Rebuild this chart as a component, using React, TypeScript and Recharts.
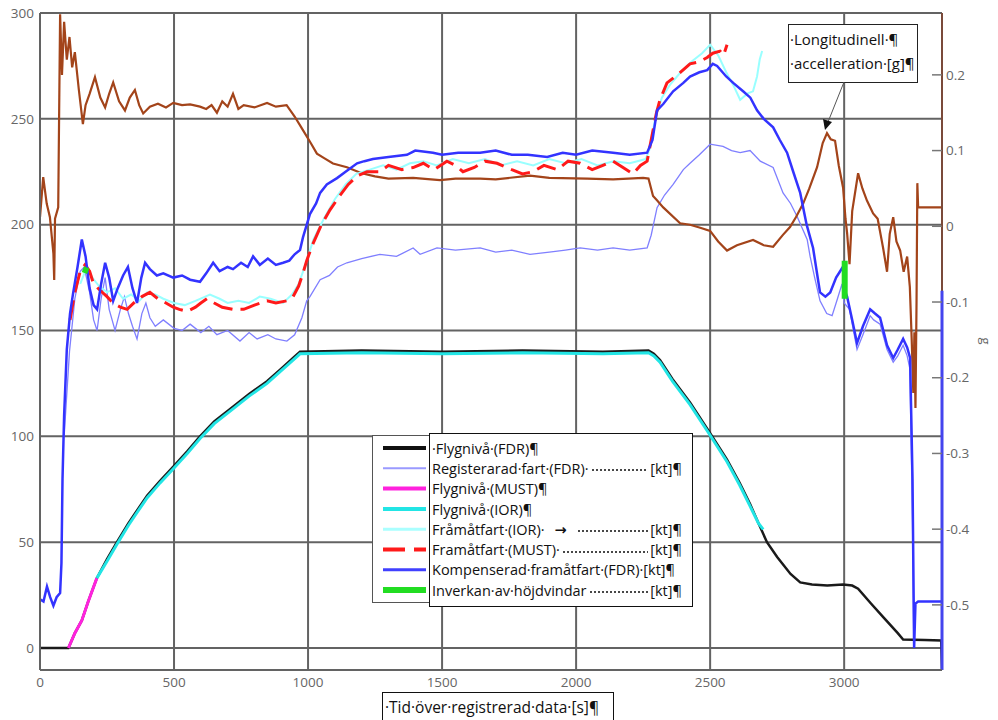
import React from 'react';
import { LineChart, Line, XAxis, YAxis, CartesianGrid, ReferenceLine } from 'recharts';

type Pair = [number, number | null];

const timeTicks = [0, 500, 1000, 1500, 2000, 2500, 3000];
const levelTicks = [0, 50, 100, 150, 200, 250, 300];
const gTicks = [-0.5, -0.4, -0.3, -0.2, -0.1, 0, 0.1, 0.2];

// Flygnivå (FDR)
const flightLevelFdr: Pair[] = [
  [0, 0], [106, 0], [130, 7], [156, 13], [180, 22], [212, 33], [250, 42], [287, 50], [330, 59], [362, 65],
  [400, 72], [448, 79], [500, 86], [550, 93], [597, 100], [650, 107], [720, 114], [780, 120], [847, 126],
  [900, 132], [944, 137], [970, 140], [1200, 140.5], [1500, 140], [1800, 140.5], [2100, 140], [2270, 140.5],
  [2290, 139], [2313, 136], [2360, 127], [2425, 116], [2500, 101.5], [2563, 89], [2610, 78], [2649, 68],
  [2680, 59], [2712, 50], [2750, 43], [2800, 35], [2836, 31], [2880, 30], [2937, 29.5], [2996, 30],
  [3030, 29.5], [3052, 28], [3100, 21], [3150, 14], [3200, 7], [3220, 4], [3300, 3.8], [3362, 3.5], [3365, -10],
];

// Flygnivå (MUST)
const flightLevelMust: Pair[] = [[106, 0], [130, 7], [156, 13], [180, 22], [212, 33]];

// Flygnivå (IOR)
const flightLevelIor: Pair[] = [
  [212, 33], [250, 41], [287, 49], [330, 58], [362, 64], [400, 71], [448, 78], [500, 85], [550, 92], [597, 99],
  [650, 106], [720, 113], [780, 119], [847, 125], [900, 131], [944, 136], [970, 139], [1200, 139.5],
  [1500, 139], [1800, 139.5], [2100, 139], [2270, 139.5], [2290, 138], [2313, 135], [2360, 126], [2425, 115],
  [2500, 100.5], [2563, 88], [2610, 77], [2649, 67], [2680, 59], [2698, 56],
];

// Registerarad fart (FDR)
const registeredSpeed: Pair[] = [
  [90, 100], [110, 140], [130, 165], [150, 178], [165, 180], [185, 168], [200, 155], [213, 150], [228, 165],
  [243, 175], [258, 160], [280, 150], [300, 160], [315, 166], [330, 158], [345, 152], [362, 146], [380, 158],
  [395, 163], [410, 156], [430, 152], [460, 155], [500, 151], [530, 150], [560, 153], [600, 149], [630, 152],
  [660, 148], [700, 150], [746, 145], [780, 149], [810, 146], [850, 148], [880, 146], [921, 145], [950, 148],
  [977, 156], [995, 164], [1007, 166], [1045, 174], [1080, 176], [1110, 180], [1145, 182], [1200, 184],
  [1268, 186], [1330, 185], [1392, 189], [1418, 186], [1481, 189], [1550, 188], [1642, 189], [1700, 187],
  [1760, 188], [1828, 186], [1900, 187], [1960, 188], [2015, 189], [2080, 188], [2138, 189], [2200, 188],
  [2265, 189], [2280, 195], [2302, 208], [2330, 214], [2362, 219], [2400, 226], [2425, 229], [2460, 233],
  [2500, 238], [2548, 237], [2580, 235], [2612, 234], [2649, 235], [2687, 230], [2735, 227], [2772, 215],
  [2800, 210], [2824, 204], [2862, 193], [2873, 185], [2890, 175], [2910, 164], [2935, 158], [2955, 157],
  [2975, 165], [2992, 172], [3000, 163], [3020, 160], [3048, 141], [3070, 148], [3097, 157], [3110, 155],
  [3134, 153], [3160, 141], [3183, 135], [3200, 138], [3220, 143], [3235, 138], [3245, 132], [3255, 60], [3260, 0],
];

// Fråmåtfart (IOR)
const forwardSpeedIor: Pair[] = [
  [150, 172], [175, 180], [195, 175], [220, 171], [250, 168], [280, 170], [310, 165], [340, 167], [370, 164],
  [400, 168], [430, 167], [460, 165], [500, 163], [540, 162], [580, 164], [634, 167], [670, 165], [700, 163],
  [740, 164], [780, 163], [820, 166], [860, 165], [907, 163], [940, 167], [965, 172], [990, 181], [1020, 193],
  [1060, 203], [1100, 212], [1140, 219], [1180, 224], [1230, 226], [1280, 228], [1330, 226], [1380, 229],
  [1430, 230], [1480, 228], [1540, 231], [1600, 229], [1660, 231], [1720, 228], [1780, 230], [1840, 228],
  [1900, 231], [1960, 229], [2020, 231], [2080, 228], [2140, 230], [2200, 229], [2260, 231], [2275, 236],
  [2295, 250], [2320, 260], [2350, 266], [2390, 272], [2430, 277], [2470, 281], [2500, 285], [2530, 280],
  [2560, 272], [2590, 265], [2612, 259], [2640, 262], [2660, 263], [2675, 270], [2685, 278], [2694, 282],
];

// Framåtfart (MUST)
const forwardSpeedMust: Pair[] = [
  [112, 155], [130, 168], [150, 178], [168, 181], [185, 178], [200, 172], [224, 169], [250, 166], [272, 163],
  [300, 161], [325, 160], [350, 163], [380, 166], [410, 168], [440, 165], [470, 163], [497, 161], [520, 160],
  [548, 159], [580, 161], [600, 163], [623, 165], [650, 163], [680, 161], [720, 160], [760, 160], [800, 162],
  [847, 164], [880, 163], [920, 164], [944, 166], [965, 171], [981, 177], [995, 183], [1015, 190], [1050, 200],
  [1082, 207], [1120, 214], [1150, 219], [1183, 223], [1220, 225], [1268, 225], [1300, 228], [1350, 226],
  [1392, 227], [1430, 229], [1470, 226], [1518, 230], [1550, 228], [1578, 225], [1620, 227], [1660, 230],
  [1705, 229], [1760, 226], [1800, 224], [1839, 225], [1880, 228], [1930, 226], [1970, 230], [2015, 229],
  [2060, 226], [2100, 228], [2138, 230], [2175, 227], [2212, 224], [2240, 228], [2265, 230], [2280, 240],
  [2300, 253], [2313, 259], [2339, 267], [2380, 271], [2425, 276], [2460, 277], [2489, 279], [2510, 281],
  [2537, 282], [2550, 280], [2563, 285],
];

// Kompenserad framåtfart (FDR)
const compensatedSpeed: Pair[] = [
  [0, 23], [13, 22], [26, 29], [38, 24], [50, 20], [62, 24], [75, 26], [80, 40], [84, 80], [90, 110], [100, 141],
  [112, 158], [124, 168], [140, 180], [156, 193], [170, 185], [185, 170], [200, 162], [213, 160], [228, 172],
  [243, 182], [258, 175], [273, 164], [290, 170], [310, 176], [328, 180], [345, 170], [362, 163], [378, 175],
  [392, 182], [410, 179], [436, 176], [460, 177], [497, 175], [530, 176], [560, 174], [597, 173], [620, 177],
  [646, 182], [670, 178], [700, 180], [720, 179], [750, 182], [775, 180], [795, 185], [820, 181], [850, 184],
  [880, 181], [907, 182], [930, 183], [950, 186], [970, 188], [981, 194], [1007, 205], [1030, 210], [1045, 215],
  [1070, 219], [1108, 222], [1140, 225], [1183, 229], [1210, 230], [1242, 231], [1300, 232], [1369, 233],
  [1400, 235], [1466, 234], [1500, 233], [1560, 234], [1642, 234], [1700, 235], [1760, 233], [1820, 233],
  [1892, 232], [1950, 234], [2000, 233], [2060, 235], [2138, 234], [2200, 233], [2265, 234], [2285, 240],
  [2302, 254], [2325, 257], [2362, 263], [2400, 267], [2425, 270], [2460, 272], [2489, 273], [2510, 276],
  [2526, 275], [2560, 270], [2586, 267], [2623, 263], [2650, 260], [2675, 254], [2700, 250], [2735, 246],
  [2760, 240], [2787, 234], [2810, 225], [2836, 215], [2860, 200], [2884, 189], [2900, 176], [2910, 168],
  [2930, 166], [2948, 168], [2970, 175], [2985, 178], [2995, 180], [3005, 168], [3011, 166], [3030, 155],
  [3048, 144], [3070, 152], [3097, 160], [3115, 158], [3134, 156], [3160, 143], [3183, 137], [3200, 141],
  [3220, 146], [3235, 142], [3246, 137], [3255, 80], [3261, 0], [3266, 21], [3276, 22], [3365, 22],
];

// Inverkan av höjdvindar
const windEffect: Pair[] = [[160, 179], [180, 178], [190, null], [3002, 183], [3002, 165]];

// Longitudinell accelleration [g]
const longAccel: Pair[] = [
  [0, 0.012], [12, 0.065], [25, 0.03], [37, 0.012], [50, -0.036], [53, -0.071], [56, 0.01], [68, 0.025],
  [75, 0.28], [82, 0.2], [90, 0.27], [100, 0.22], [110, 0.25], [120, 0.21], [130, 0.23], [145, 0.18],
  [160, 0.135], [170, 0.16], [185, 0.175], [205, 0.197], [225, 0.17], [243, 0.157], [258, 0.175], [273, 0.19],
  [295, 0.165], [317, 0.153], [335, 0.17], [354, 0.18], [370, 0.16], [385, 0.149], [410, 0.158], [440, 0.162],
  [470, 0.157], [497, 0.163], [530, 0.16], [560, 0.161], [597, 0.158], [620, 0.155], [640, 0.16], [660, 0.15],
  [680, 0.165], [700, 0.158], [720, 0.175], [740, 0.155], [760, 0.16], [800, 0.157], [847, 0.163], [880, 0.158],
  [920, 0.16], [950, 0.145], [981, 0.127], [1010, 0.11], [1033, 0.096], [1060, 0.09], [1093, 0.083],
  [1145, 0.078], [1200, 0.07], [1250, 0.066], [1300, 0.063], [1392, 0.064], [1492, 0.061], [1550, 0.063],
  [1642, 0.063], [1700, 0.062], [1828, 0.067], [1900, 0.064], [2041, 0.063], [2138, 0.062], [2250, 0.064],
  [2270, 0.063], [2287, 0.04], [2300, 0.035], [2325, 0.025], [2388, 0.004], [2425, 0.002], [2463, -0.002],
  [2500, -0.006], [2530, -0.02], [2563, -0.032], [2600, -0.025], [2660, -0.018], [2700, -0.025], [2735, -0.027],
  [2770, -0.012], [2798, -0.001], [2820, 0.012], [2847, 0.03], [2870, 0.05], [2899, 0.078], [2920, 0.11],
  [2936, 0.123], [2950, 0.115], [2966, 0.113], [2980, 0.08], [2996, 0.051], [3005, 0.01], [3011, -0.009],
  [3020, -0.05], [3030, 0.02], [3052, 0.07], [3068, 0.05], [3085, 0.034], [3108, 0.017], [3125, 0.01],
  [3145, -0.028], [3160, -0.06], [3170, -0.01], [3183, 0.012], [3195, -0.02], [3209, -0.032], [3222, -0.06],
  [3235, -0.04], [3245, -0.08], [3252, -0.15], [3258, -0.22], [3262, -0.14], [3266, -0.24], [3270, -0.1],
  [3273, 0.057], [3276, 0.025], [3365, 0.025],
];

const toPts = (arr: Pair[]) => arr.map(([x, y]) => ({ x, y }));

const legendItems = [
  { text: '·Flygnivå·(FDR)¶', color: '#111111', width: 4 },
  { text: 'Registerarad·fart·(FDR)·', leader: true, unit: '[kt]¶', color: '#9a9aff', width: 2 },
  { text: 'Flygnivå·(MUST)¶', color: '#ff22dd', width: 4 },
  { text: 'Flygnivå·(IOR)¶', color: '#22e5e5', width: 4 },
  { text: 'Fråmåtfart·(IOR)·', arrow: true, leader: true, unit: '[kt]¶', color: '#aaffff', width: 3 },
  { text: 'Framåtfart·(MUST)·', leader: true, unit: '[kt]¶', color: '#ff1a1a', width: 4, dash: '22 9' },
  { text: 'Kompenserad·framåtfart·(FDR)·[kt]¶', color: '#4040ff', width: 3 },
  { text: 'Inverkan·av·höjdvindar', leader: true, unit: '[kt]¶', color: '#22dd22', width: 6 },
];

const GRID = '#636363';
const BROWN = '#a3441a';
const FONT = '"Open Sans", "DejaVu Sans", sans-serif';

const RightTick = (props: any) => {
  const { x, y, payload } = props;
  return (
    <g>
      <line x1={x - 14} x2={x - 4} y1={y} y2={y} stroke="#777" strokeWidth={1.5} />
      <text x={x} y={y} dy="0.35em" fill="#666" fontSize={13.5} fontFamily={FONT}>
        {String(payload.value)}
      </text>
    </g>
  );
};

const leaderStyle: React.CSSProperties = {
  flex: 1,
  minWidth: 0,
  height: 6,
  margin: '4px 2px 0 2px',
  backgroundImage: 'radial-gradient(circle, #444 0.7px, transparent 1.1px)',
  backgroundSize: '4px 6px',
  backgroundRepeat: 'repeat-x',
};

export default function App() {
  return (
    <div style={{ position: 'absolute', left: 0, top: 0, width: 998, height: 720, background: '#fff', fontFamily: FONT }}>
      <LineChart width={998} height={720} margin={{ top: 13, right: 0, bottom: 0, left: 0 }}>
        <CartesianGrid yAxisId="l" stroke={GRID} strokeWidth={2} />
        <XAxis
          dataKey="x"
          type="number"
          domain={[0, 3365]}
          ticks={timeTicks}
          allowDataOverflow
          height={50}
          tickSize={0}
          tickMargin={7}
          tickLine={false}
          axisLine={{ stroke: GRID, strokeWidth: 2 }}
          tick={{ fill: '#666', fontSize: 13.5, fontFamily: FONT }}
        />
        <YAxis
          yAxisId="l"
          type="number"
          domain={[-10.4, 300]}
          ticks={levelTicks}
          allowDataOverflow
          width={40}
          tickSize={0}
          tickMargin={6}
          tickLine={false}
          axisLine={{ stroke: GRID, strokeWidth: 2 }}
          tick={{ fill: '#666', fontSize: 13.5, fontFamily: FONT }}
        />
        <YAxis
          yAxisId="r"
          orientation="right"
          type="number"
          domain={[-0.586, 0.2817]}
          ticks={gTicks}
          allowDataOverflow
          width={56}
          tickSize={0}
          tickMargin={4}
          tickLine={false}
          axisLine={false}
          tick={<RightTick />}
        />
        <Line yAxisId="l" data={toPts(flightLevelFdr)} dataKey="y" stroke="#1a1a1a" strokeWidth={2.5} dot={false} activeDot={false} isAnimationActive={false} />
        <Line yAxisId="l" data={toPts(flightLevelMust)} dataKey="y" stroke="#ff22dd" strokeWidth={3} dot={false} activeDot={false} isAnimationActive={false} />
        <Line yAxisId="l" data={toPts(flightLevelIor)} dataKey="y" stroke="#22e5e5" strokeWidth={3} dot={false} activeDot={false} isAnimationActive={false} />
        <Line yAxisId="l" data={toPts(registeredSpeed)} dataKey="y" stroke="#7f7fff" strokeWidth={1.3} dot={false} activeDot={false} isAnimationActive={false} />
        <Line yAxisId="r" data={toPts(longAccel)} dataKey="y" stroke={BROWN} strokeWidth={2.2} dot={false} activeDot={false} isAnimationActive={false} />
        <Line yAxisId="l" data={toPts(forwardSpeedIor)} dataKey="y" stroke="#99ffff" strokeWidth={2} dot={false} activeDot={false} isAnimationActive={false} />
        <Line yAxisId="l" data={toPts(forwardSpeedMust)} dataKey="y" stroke="#ff1a1a" strokeWidth={3} strokeDasharray="20 8" dot={false} activeDot={false} isAnimationActive={false} />
        <Line yAxisId="l" data={toPts(compensatedSpeed)} dataKey="y" stroke="#3333ff" strokeWidth={2.5} dot={false} activeDot={false} isAnimationActive={false} />
        <Line yAxisId="l" data={toPts(windEffect)} dataKey="y" stroke="#22dd22" strokeWidth={6} dot={false} activeDot={false} isAnimationActive={false} />
        <ReferenceLine yAxisId="r" segment={[{ x: 3365, y: 0.2817 }, { x: 3365, y: -0.085 }]} stroke="#7a4a3a" strokeWidth={2} ifOverflow="visible" />
        <ReferenceLine yAxisId="r" segment={[{ x: 3365, y: -0.085 }, { x: 3365, y: -0.586 }]} stroke="#4444ee" strokeWidth={3} ifOverflow="visible" />
      </LineChart>

      {/* right axis title */}
      <div style={{ position: 'absolute', left: 982, top: 332, fontSize: 13, color: '#666', transform: 'rotate(90deg)' }}>g</div>

      {/* annotation */}
      <div
        style={{
          position: 'absolute', left: 788, top: 24, width: 127, height: 55, border: '1.5px solid #222',
          background: '#fff', fontSize: 15, lineHeight: '24px', color: '#111', overflow: 'hidden',
          whiteSpace: 'nowrap', paddingLeft: 1, paddingTop: 2, boxSizing: 'content-box',
        }}
      >
        <div>·Longitudinell·¶</div>
        <div>·accelleration·[g]¶</div>
      </div>
      <svg style={{ position: 'absolute', left: 0, top: 0, pointerEvents: 'none' }} width={998} height={720}>
        <line x1={844} y1={82} x2={828} y2={122} stroke="#555" strokeWidth={1} />
        <polygon points="825,130 823,119 832,122" fill="#111" />
      </svg>

      {/* legend */}
      <div style={{ position: 'absolute', left: 372, top: 435, width: 70, height: 166, border: '1.5px solid #555', background: '#fff' }}>
        <svg width={70} height={166} style={{ position: 'absolute', left: 0, top: 0 }}>
          {legendItems.map((it, i) => (
            <line
              key={i}
              x1={10}
              x2={53}
              y1={12 + i * 20.3}
              y2={12 + i * 20.3}
              stroke={it.color}
              strokeWidth={it.width}
              strokeDasharray={it.dash}
            />
          ))}
        </svg>
      </div>
      <div
        style={{
          position: 'absolute', left: 429, top: 433, width: 262, height: 168, border: '1.5px solid #111',
          background: '#fff', paddingTop: 4, boxSizing: 'content-box',
        }}
      >
        {legendItems.map((it, i) => (
          <div
            key={i}
            style={{
              display: 'flex', alignItems: 'center', height: 20.3, fontSize: 14.5, color: '#111',
              whiteSpace: 'nowrap', paddingLeft: 2, width: 250,
            }}
          >
            <span>{it.text}</span>
            {it.arrow ? <span style={{ fontWeight: 700, margin: '0 8px 0 10px' }}>→</span> : null}
            {it.leader ? <span style={leaderStyle} /> : null}
            {it.unit ? <span>{it.unit}</span> : null}
          </div>
        ))}
      </div>

      {/* x-axis title */}
      <div
        style={{
          position: 'absolute', left: 382, top: 692, width: 228, height: 30, border: '1.5px solid #111',
          background: '#fff', fontSize: 15.5, lineHeight: '28px', color: '#111', paddingLeft: 2, whiteSpace: 'nowrap',
        }}
      >
        ·Tid·över·registrerad·data·[s]¶
      </div>
    </div>
  );
}
